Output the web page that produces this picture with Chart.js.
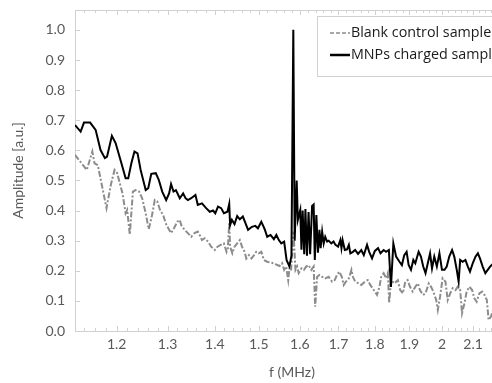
<!DOCTYPE html>
<html>
<head>
<meta charset="utf-8">
<script src="https://cdn.jsdelivr.net/npm/chart.js@4"></script>
<style>
  html, body { margin: 0; padding: 0; background: #fff; overflow: hidden; }
  #wrap { position: relative; width: 520px; height: 383px; }
</style>
</head>
<body>
<div id="wrap"><canvas id="spectrumChart"></canvas></div>
<script>
// tick labels
const xTickValues = [1.2, 1.3, 1.4, 1.5, 1.6, 1.7, 1.8, 1.9, 2, 2.1];
const yTickValues = [0, 0.1, 0.2, 0.3, 0.4, 0.5, 0.6, 0.7, 0.8, 0.9, 1.0];

const seriesLabels = ["Blank control sample", "MNPs charged sample"];

// Blank control sample
const freqBlank = [
  1.124, 1.131, 1.145, 1.155, 1.159, 1.165, 1.173, 1.181, 1.189, 1.196,
  1.201, 1.211, 1.217, 1.220, 1.225, 1.231, 1.236, 1.243, 1.249, 1.256,
  1.262, 1.268, 1.274, 1.279, 1.285, 1.291, 1.296, 1.303, 1.307, 1.313,
  1.320, 1.325, 1.328, 1.335, 1.342, 1.349, 1.356, 1.363, 1.367, 1.372,
  1.378, 1.385, 1.392, 1.400, 1.406, 1.413, 1.420, 1.426, 1.429, 1.432,
  1.434, 1.439, 1.444, 1.450, 1.456, 1.461, 1.467, 1.471, 1.477, 1.483,
  1.489, 1.494, 1.500, 1.506, 1.512, 1.520, 1.528, 1.536, 1.544, 1.550,
  1.556, 1.561, 1.566, 1.571, 1.574, 1.578, 1.584, 1.589, 1.593, 1.597,
  1.604, 1.610, 1.616, 1.622, 1.629, 1.635, 1.639, 1.644, 1.650, 1.657,
  1.665, 1.674, 1.683, 1.690, 1.696, 1.702, 1.709, 1.714, 1.720, 1.728,
  1.735, 1.739, 1.745, 1.755, 1.762, 1.772, 1.780, 1.787, 1.797, 1.806,
  1.813, 1.818, 1.825, 1.832, 1.837, 1.841, 1.846, 1.856, 1.866, 1.873,
  1.881, 1.888, 1.895, 1.902, 1.910, 1.918, 1.926, 1.932, 1.941, 1.949,
  1.959, 1.966, 1.973, 1.982, 1.987, 1.994, 2.002, 2.011, 2.018, 2.026,
  2.034, 2.043, 2.050, 2.058, 2.064, 2.072, 2.079, 2.088, 2.097, 2.104,
  2.112, 2.121, 2.130, 2.138, 2.146, 2.152, 2.160, 2.177, 2.198, 2.222
];
const ampBlank = [
  0.585, 0.568, 0.535, 0.596, 0.557, 0.551, 0.479, 0.408, 0.485, 0.535,
  0.524, 0.457, 0.391, 0.402, 0.320, 0.463, 0.468, 0.463, 0.441, 0.391,
  0.338, 0.380, 0.435, 0.430, 0.400, 0.385, 0.358, 0.336, 0.325, 0.341,
  0.363, 0.369, 0.352, 0.336, 0.325, 0.313, 0.325, 0.330, 0.319, 0.302,
  0.308, 0.297, 0.280, 0.269, 0.280, 0.286, 0.291, 0.263, 0.275, 0.360,
  0.280, 0.258, 0.280, 0.291, 0.302, 0.280, 0.263, 0.241, 0.252, 0.241,
  0.252, 0.263, 0.258, 0.263, 0.236, 0.230, 0.227, 0.225, 0.219, 0.216,
  0.225, 0.203, 0.214, 0.169, 0.208, 0.200, 0.330, 0.203, 0.214, 0.192,
  0.208, 0.203, 0.214, 0.219, 0.203, 0.214, 0.081, 0.180, 0.186, 0.180,
  0.175, 0.180, 0.164, 0.169, 0.186, 0.197, 0.180, 0.153, 0.164, 0.175,
  0.203, 0.180, 0.164, 0.158, 0.153, 0.164, 0.169, 0.153, 0.136, 0.120,
  0.147, 0.180, 0.192, 0.175, 0.192, 0.092, 0.169, 0.158, 0.169, 0.136,
  0.125, 0.164, 0.169, 0.147, 0.131, 0.147, 0.158, 0.136, 0.120, 0.125,
  0.158, 0.147, 0.131, 0.103, 0.070, 0.114, 0.175, 0.164, 0.103, 0.125,
  0.142, 0.136, 0.147, 0.136, 0.059, 0.092, 0.131, 0.147, 0.136, 0.109,
  0.097, 0.125, 0.131, 0.120, 0.103, 0.037, 0.048, 0.100, 0.090, 0.100
];

// MNPs charged sample
const freqMnp = [
  1.124, 1.134, 1.140, 1.151, 1.161, 1.170, 1.178, 1.182, 1.191, 1.198,
  1.209, 1.217, 1.222, 1.228, 1.234, 1.240, 1.246, 1.256, 1.261, 1.267,
  1.276, 1.282, 1.289, 1.297, 1.303, 1.307, 1.312, 1.317, 1.325, 1.332,
  1.337, 1.342, 1.349, 1.358, 1.363, 1.372, 1.381, 1.389, 1.396, 1.401,
  1.407, 1.414, 1.420, 1.428, 1.432, 1.434, 1.438, 1.444, 1.450, 1.456,
  1.463, 1.469, 1.475, 1.484, 1.492, 1.498, 1.506, 1.514, 1.520, 1.528,
  1.536, 1.542, 1.548, 1.554, 1.561, 1.567, 1.574, 1.579, 1.5836, 1.587,
  1.592, 1.595, 1.601, 1.604, 1.607, 1.611, 1.614, 1.618, 1.622, 1.626,
  1.631, 1.635, 1.638, 1.642, 1.646, 1.650, 1.653, 1.657, 1.661, 1.665,
  1.670, 1.674, 1.681, 1.687, 1.692, 1.699, 1.705, 1.708, 1.711, 1.717,
  1.723, 1.728, 1.732, 1.739, 1.745, 1.753, 1.762, 1.769, 1.778, 1.784,
  1.792, 1.800, 1.809, 1.816, 1.825, 1.832, 1.840, 1.846, 1.853, 1.861,
  1.871, 1.878, 1.885, 1.892, 1.898, 1.905, 1.912, 1.918, 1.928, 1.935,
  1.942, 1.949, 1.956, 1.963, 1.969, 1.976, 1.984, 1.992, 2.000, 2.008,
  2.015, 2.023, 2.032, 2.039, 2.047, 2.053, 2.058, 2.066, 2.075, 2.083,
  2.090, 2.099, 2.108, 2.116, 2.123, 2.132, 2.141, 2.149, 2.157, 2.174,
  2.191, 2.208, 2.222
];
const ampMnp = [
  0.684, 0.662, 0.692, 0.692, 0.668, 0.601, 0.574, 0.579, 0.648, 0.624,
  0.557, 0.507, 0.507, 0.557, 0.596, 0.590, 0.535, 0.468, 0.474, 0.522,
  0.524, 0.502, 0.463, 0.435, 0.457, 0.488, 0.463, 0.468, 0.441, 0.457,
  0.441, 0.435, 0.441, 0.452, 0.419, 0.424, 0.408, 0.396, 0.400, 0.391,
  0.413, 0.408, 0.391, 0.396, 0.422, 0.352, 0.369, 0.355, 0.382, 0.371,
  0.380, 0.358, 0.336, 0.346, 0.349, 0.341, 0.363, 0.338, 0.313, 0.319,
  0.305, 0.319, 0.302, 0.291, 0.297, 0.235, 0.215, 0.250, 1.000, 0.300,
  0.500, 0.369, 0.402, 0.270, 0.400, 0.255, 0.405, 0.250, 0.395, 0.255,
  0.415, 0.420, 0.236, 0.385, 0.260, 0.336, 0.275, 0.330, 0.291, 0.313,
  0.297, 0.300, 0.291, 0.297, 0.286, 0.280, 0.302, 0.275, 0.302, 0.269,
  0.271, 0.286, 0.258, 0.263, 0.269, 0.256, 0.269, 0.252, 0.286, 0.263,
  0.241, 0.266, 0.275, 0.258, 0.269, 0.263, 0.269, 0.146, 0.291, 0.247,
  0.230, 0.219, 0.252, 0.263, 0.219, 0.203, 0.236, 0.225, 0.263, 0.247,
  0.214, 0.192, 0.225, 0.258, 0.208, 0.247, 0.214, 0.258, 0.203, 0.203,
  0.214, 0.247, 0.269, 0.247, 0.203, 0.164, 0.236, 0.230, 0.236, 0.214,
  0.197, 0.225, 0.247, 0.258, 0.241, 0.214, 0.192, 0.203, 0.214, 0.230,
  0.210, 0.200, 0.220
];

const FONT = "Lato, 'Open Sans', sans-serif";
const LEGEND_FONT = "'Open Sans', 'Noto Sans', sans-serif";
const AXIS_GREY = "#d0d0d0";
const TEXT_GREY = "#595959";

const toPoints = (xs, ys) => xs.map((x, i) => ({ x, y: ys[i] }));

// no extra room for half-labels at the ends, the plot box is fixed
const noEdgePadding = scale => {
  scale.paddingTop = 0;
  scale.paddingBottom = 0;
  scale.paddingLeft = 0;
  scale.paddingRight = 0;
};

// inward tick marks on bottom/top/left edges, like the spreadsheet original
const frameTicks = {
  id: "frameTicks",
  beforeDatasetsDraw(chart) {
    const { ctx, chartArea: a, scales: { x, y } } = chart;
    ctx.save();
    ctx.strokeStyle = AXIS_GREY;
    ctx.lineWidth = 1;
    ctx.beginPath();
    ctx.moveTo(a.left, a.top + 0.5);
    ctx.lineTo(a.right, a.top + 0.5);
    for (let k = 114; k <= 222; k += 2) {
      const px = Math.round(x.getPixelForValue(k / 100)) + 0.5;
      const len = k % 10 === 0 ? 5 : 3;
      ctx.moveTo(px, a.bottom);
      ctx.lineTo(px, a.bottom - len);
      ctx.moveTo(px, a.top);
      ctx.lineTo(px, a.top + len);
    }
    yTickValues.forEach(v => {
      const py = Math.round(y.getPixelForValue(v)) + 0.5;
      ctx.moveTo(a.left, py);
      ctx.lineTo(a.left + 5, py);
    });
    ctx.stroke();
    ctx.restore();
  }
};

// boxed legend inside the plot, top right
const boxLegend = {
  id: "boxLegend",
  afterDraw(chart) {
    const { ctx, chartArea: a } = chart;
    const left = a.left + 242;
    const top = a.top + 6;
    ctx.save();
    ctx.fillStyle = "#fff";
    ctx.fillRect(left, top, 270, 60);
    ctx.strokeStyle = AXIS_GREY;
    ctx.lineWidth = 1;
    ctx.strokeRect(left + 0.5, top + 0.5, 270, 60);
    ctx.font = "14.3px " + LEGEND_FONT;
    ctx.textBaseline = "middle";
    chart.data.datasets.forEach((ds, i) => {
      const yy = top + 17 + i * 22;
      ctx.beginPath();
      ctx.strokeStyle = ds.borderColor;
      ctx.lineWidth = i === 0 ? 1.5 : 2.5;
      ctx.setLineDash(i === 0 ? [4, 2] : []);
      ctx.moveTo(left + 13, yy);
      ctx.lineTo(left + 33, yy);
      ctx.stroke();
      ctx.setLineDash([]);
      ctx.fillStyle = "#1a1a1a";
      ctx.fillText(ds.label, left + 34, yy);
    });
    ctx.restore();
  }
};

new Chart(document.getElementById("spectrumChart"), {
  type: "line",
  data: {
    datasets: [
      {
        label: seriesLabels[0],
        data: toPoints(freqBlank, ampBlank),
        borderColor: "#8c8c8c",
        borderWidth: 2,
        borderDash: [6, 2, 2, 2],
        pointRadius: 0,
        tension: 0,
        order: 2
      },
      {
        label: seriesLabels[1],
        data: toPoints(freqMnp, ampMnp),
        borderColor: "#000000",
        borderWidth: 2,
        pointRadius: 0,
        tension: 0,
        order: 1
      }
    ]
  },
  options: {
    responsive: true,
    maintainAspectRatio: false,
    animation: false,
    layout: { padding: { top: 10, right: 11, left: 0, bottom: 0 } },
    plugins: {
      legend: { display: false },
      tooltip: { enabled: false }
    },
    scales: {
      x: {
        type: "logarithmic",
        min: 1.124,
        max: 2.222,
        afterBuildTicks: scale => {
          scale.ticks = xTickValues.map(v => ({ value: v }));
        },
        afterFit: scale => {
          scale.height = 52;
          noEdgePadding(scale);
        },
        grid: { drawOnChartArea: false, drawTicks: false },
        border: { color: AXIS_GREY },
        ticks: {
          autoSkip: false,
          maxRotation: 0,
          padding: 5,
          color: TEXT_GREY,
          font: { family: FONT, size: 14 },
          callback: v => String(v)
        },
        title: {
          display: true,
          text: "f (MHz)",
          color: TEXT_GREY,
          font: { family: FONT, size: 14 },
          padding: { top: 0, bottom: 2 }
        }
      },
      y: {
        min: 0,
        max: 1.066,
        afterBuildTicks: scale => {
          scale.ticks = yTickValues.map(v => ({ value: v }));
        },
        afterFit: scale => {
          scale.width = 75;
          noEdgePadding(scale);
        },
        grid: { drawOnChartArea: false, drawTicks: false },
        border: { color: AXIS_GREY },
        ticks: {
          padding: 10,
          color: TEXT_GREY,
          font: { family: FONT, size: 14 },
          callback: v => Number(v).toFixed(1)
        },
        title: {
          display: true,
          text: "Amplitude [a.u.]",
          color: TEXT_GREY,
          font: { family: FONT, size: 14 },
          padding: { top: 10, bottom: 0 }
        }
      }
    }
  },
  plugins: [frameTicks, boxLegend]
});
</script>
</body>
</html>
